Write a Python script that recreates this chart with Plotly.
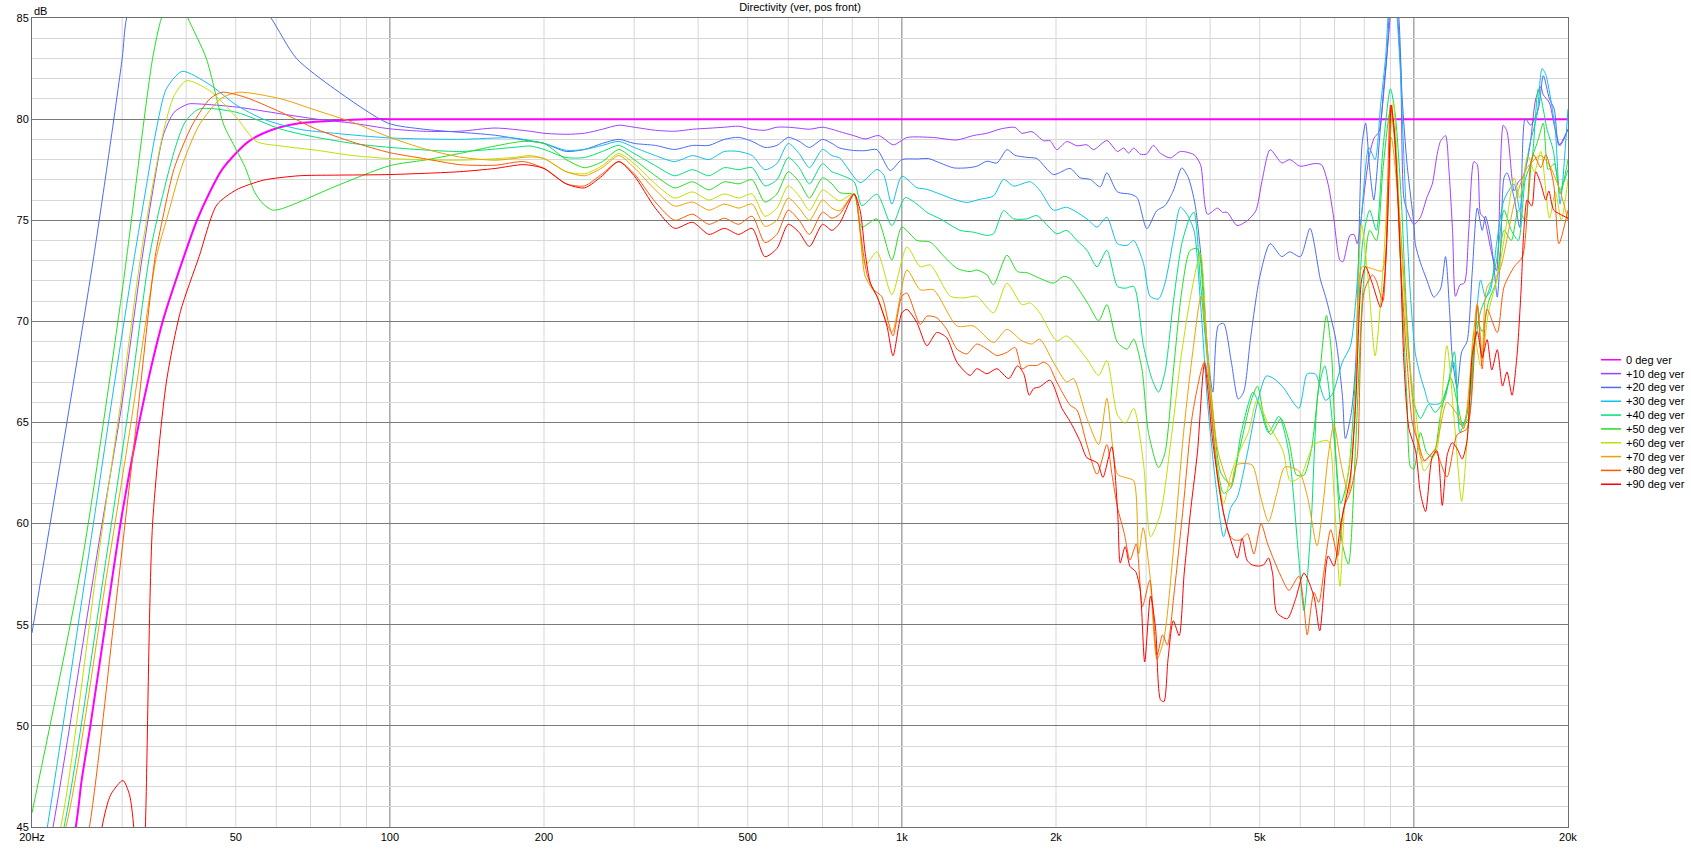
import math
import plotly.graph_objects as go

# ---------------- data ----------------
MID_F = [200, 221, 240, 260, 280, 300, 330, 360, 390, 420,
         450, 480, 510, 540, 570, 600, 630, 660, 700, 730]

# 0 deg
f_00 = [20, 24.35, 25.0, 26, 28, 30, 33, 36, 39.6, 42, 44.5, 47, 50, 53, 56.6, 61, 66.5, 78, 90, 100, 20000]
d_00 = [35, 45, 47.3, 50, 55.5, 60.5, 66, 70, 73.2, 75.0, 76.4, 77.5, 78.3, 78.9, 79.3, 79.6, 79.8, 79.93, 80, 80, 80]

# +10
f_10 = ([20, 21.98, 27, 30, 32.8, 34.4, 36.1, 37.9, 40.4, 42.4,
         50.1, 61.3, 71.9, 84.5, 100, 116.5, 136.8, 160.5, 188] + MID_F +
        [756, 804, 848, 901, 963, 1023, 1153, 1281, 1380, 1466,
         1556, 1664, 1715, 1795, 1891, 1948, 2007, 2099, 2197, 2298,
         2369, 2514, 2637, 2713, 2772, 2837, 2920, 3005, 3100, 3195,
         3345, 3498, 3720, 3831, 3953, 4135, 4230, 4320, 4515, 4727,
         4913, 5048, 5240, 5523, 5720,
         6000, 6380, 6600, 6800, 6970, 7170, 7270, 7500, 7640, 7750,
         7990, 8170, 8360, 8550, 8740, 8940, 9150, 9300, 9420, 9560,
         9710, 10000, 10300, 10600, 10860, 11100, 11270, 11530, 11700, 11900,
         12060, 12300, 12550, 12800, 13100, 13300, 13500, 13700, 13900, 14100,
         14500, 14950, 15200, 15700, 16000, 16300, 16600, 16900, 17300, 17700,
         17900, 18400, 18800, 19300, 20000])
d_10 = ([40, 45, 59, 66, 73.1, 76.4, 79.2, 80.34, 80.75, 80.75,
         80.6, 80.26, 80.0, 79.8, 79.52, 79.4, 79.4, 79.56, 79.4] +
        [79.3, 79.25, 79.3, 79.5, 79.7, 79.6, 79.45, 79.4, 79.5, 79.55,
         79.6, 79.65, 79.5, 79.45, 79.6, 79.6, 79.55, 79.5, 79.6, 79.5] +
        [79.38, 79.19, 79.02, 79.19, 78.73, 79.09, 79.09, 78.97, 79.19, 79.3,
         79.51, 79.59, 79.3, 79.38, 78.93, 78.93, 78.49, 78.89, 78.68, 78.73,
         78.49, 78.94, 78.4, 78.57, 78.32, 78.57, 78.27, 78.27, 78.7, 78.32,
         78.08, 78.4, 78.24, 77.75, 75.3, 75.6, 75.39, 75.39, 74.74, 74.98,
         75.47, 76.9, 78.49, 77.83, 78.0,
         77.67, 77.8, 77.75, 76.78, 75.15, 73.03, 72.95, 74.25, 74.3, 73.84,
         76.29, 78.08, 79.06, 79.38, 81.66, 84.27, 87.5, 85, 82.64, 76.1,
         75.47, 74.8, 75.15, 76.12, 76.78, 78.24, 78.9, 79.19, 77.6, 74.5,
         71.24, 71.8, 71.9, 74.5, 77.9, 77.75, 75.3, 75.15, 74.5, 73.7,
         72.5, 79.7, 79.4, 76.45, 76.9, 77.1, 77.75, 78.9, 81, 81.6,
         81.2, 80.8, 79.7, 78.7, 79.5])

# +20
f_20 = ([20, 26.4, 30, 30.6, 34, 40, 47, 53, 58.6, 65.7,
         77.9, 99.2, 116.6, 161, 189] + MID_F +
        [756, 805, 848, 894, 949, 1000, 1070, 1127, 1188, 1262,
         1339, 1401, 1466, 1533, 1604, 1664, 1754, 1835, 1977, 2131,
         2229, 2333, 2440, 2514, 2637, 2794, 2880, 3009, 3146, 3265,
         3389, 3521, 3627, 3737, 3850, 3972, 4050, 4150, 4250, 4400,
         4540, 4650, 4800, 5000, 5240, 5520, 5720,
         6000, 6270, 6570, 6720, 7040, 7250, 7350, 7550, 7700, 7920,
         8050, 8200, 8350, 8600, 8850, 9100, 9350, 9490, 9700, 10000,
         10070, 10300, 10600, 10940, 11270, 11530, 11750, 11880, 12150, 12400,
         12700, 13000, 13300, 13600, 13800, 14100, 14300, 14550, 14770, 15000,
         15200, 15700, 16100, 16500, 16900, 17500, 17900, 18400, 18800, 19200, 20000])
d_20 = ([54.6, 73.2, 83, 85, 88.5, 90, 88.5, 86.5, 85, 83,
         81.5, 79.8, 79.5, 79.2, 78.9] +
        [78.8, 78.4, 78.5, 78.8, 79.0, 78.8, 78.7, 78.5, 78.7, 78.7,
         79.0, 79.1, 78.9, 78.6, 78.7, 79.1, 78.9, 78.6, 79.0, 78.8] +
        [78.57, 78.45, 78.44, 78.49, 77.46, 78.0, 78.03, 78.05, 77.83, 77.59,
         77.59, 77.67, 77.92, 77.83, 78.49, 78.21, 78.11, 78.05, 77.26, 77.56,
         77.1, 77.02, 76.65, 77.35, 76.4, 76.29, 76.12, 74.58, 75.47, 75.72,
         76.45, 77.59, 77.1, 75.8, 72.87, 67.98, 66.5, 69.8, 69.9, 68,
         66.16, 66.5, 69.2, 72.2, 73.84, 73.2, 73.44,
         73.2, 74.6, 72.05, 71.24, 69.1, 66.35, 64.2, 65.5, 67.98, 78.73,
         79.8, 77.5, 76.0, 79.5, 83, 88, 85, 81.0, 77.75, 74.8,
         73.8, 72.9, 72.05, 71.2, 71.6, 73.2, 70.4, 68.3, 66.7, 68.5,
         69.0, 72.4, 75.6, 74.5, 75.2, 74.2, 73.0, 71.2, 73.5, 77.1,
         77.35, 76.1, 74.65, 80.03, 79.7, 80.5, 82.15, 81.0, 80.5, 78.7, 79.5])

# +30
f_30 = ([20, 21.43, 26, 29, 31.7, 33.3, 34.9, 36.6, 39.3, 44.5,
         50.1, 56.6, 66.5, 78, 100, 136.8, 174] + MID_F +
        [756, 829, 894, 921, 956, 1000, 1070, 1119, 1188, 1262,
         1339, 1422, 1510, 1580, 1653, 1782, 1863, 1977, 2099, 2298,
         2405, 2514, 2637, 2754, 2837, 2964, 3054, 3172, 3265, 3389,
         3498, 3601, 3720, 3831, 3953, 4100, 4250, 4390, 4520, 4730,
         4950, 5150, 5330, 5570, 5960, 6190, 6420, 6720, 6930, 7250,
         7520, 7700, 7920, 8170, 8400, 8610, 8810, 8900, 9100, 9280,
         9420, 9600, 9850, 10070, 10300, 10500, 10700, 10900, 11270, 11700,
         11970, 12150, 12300, 12600, 12800, 13100, 13500, 13800, 14100, 14500,
         15000, 15700, 16100, 16500, 16900, 17400, 17800, 18100, 18500, 18900, 19300, 20000])
d_30 = ([40.5, 45, 59, 67, 73.2, 76.4, 79.36, 81.5, 82.36, 81.7,
         80.7, 80.0, 79.5, 79.3, 79.07, 79.0, 79.07] +
        [78.8, 78.46, 78.5, 78.7, 78.9, 78.6, 78.2, 77.9, 78.2, 78.0,
         78.4, 78.4, 78.2, 77.5, 77.8, 78.8, 78.3, 77.6, 78.5, 78.2] +
        [78.08, 76.86, 77.51, 77.26, 75.8, 77.18, 76.61, 76.53, 76.29, 76.04,
         75.88, 76.04, 76.2, 77.02, 76.69, 76.9, 76.45, 75.5, 75.64, 75.07,
         74.66, 75.15, 73.84, 73.76, 74.0, 72.87, 71.24, 71.11, 71.89, 74.0,
         75.64, 75.31, 74.5, 70.91, 66.03, 62, 59.35, 60.8, 61.3, 63.5,
         66, 67.3, 67.17, 66.7, 65.7, 67.4, 67.4, 66.1, 66.4, 67.98,
         68.8, 71, 75.5, 78.6, 78.0, 80.7, 83.1, 85, 88, 85,
         82.15, 77, 71.24, 68.4, 67.3, 66.6, 65.95, 65.9, 65.95, 67.0,
         67.98, 66.5, 64.9, 65.0, 65.2, 68.5, 72.05, 71.2, 71.5, 73.8,
         76, 76.8, 75.5, 77.5, 78.9, 80.2, 82.5, 82.2, 81.0, 79.4, 75.8, 80.5])

# +40
f_40 = ([20, 23.1, 28, 31, 33.9, 35.5, 37.9, 39.8, 42.4, 50.1,
         61.3, 71.9, 84.5, 100, 136.8, 174, 188] + MID_F +
        [756, 807, 835, 894, 956, 1015, 1070, 1119, 1188, 1300,
         1380, 1466, 1510, 1580, 1653, 1754, 1835, 2007, 2099, 2197,
         2298, 2405, 2514, 2637, 2733, 2837, 2964, 3077, 3172, 3265,
         3389, 3521, 3654, 3720, 3831, 3953, 4100, 4250, 4400, 4600,
         4850, 5000, 5200, 5450, 5700, 5950, 6100, 6300, 6500, 6700,
         7000, 7200, 7450, 7700, 7950, 8200, 8450, 8700, 9000, 9200,
         9450, 9700, 10000, 10300, 10700, 11000, 11500, 12000, 12300, 12700,
         13100, 13500, 14000, 14500, 15000, 15500, 16000, 16500, 17000, 17500,
         17800, 18200, 18700, 19300, 20000])
d_40 = ([39, 45, 58.5, 66, 73.2, 75.6, 78.4, 79.85, 80.5, 80.34,
         79.5, 79.1, 78.8, 78.6, 78.4, 78.6, 78.67] +
        [78.5, 78.1, 78.1, 78.4, 78.7, 78.3, 77.7, 77.2, 77.5, 77.2,
         77.6, 77.5, 77.6, 76.7, 77.0, 78.1, 77.6, 76.8, 77.8, 77.4] +
        [77.26, 76.9, 75.72, 76.29, 74.74, 76.12, 75.8, 75.39, 75.07, 74.5,
         74.41, 74.25, 74.33, 75.47, 75.07, 75.07, 75.23, 74.33, 74.5, 74.0,
         73.52, 72.7, 73.52, 71.73, 71.64, 71.73, 68.8, 67.17, 66.5, 67.49,
         70.91, 73.84, 75.15, 75.4, 71.89, 67.98, 63.5, 61.5, 61.8, 64.5,
         66.5, 65.8, 64.5, 65.3, 63.5, 58.5, 55.7, 60, 66.5, 67.8,
         64, 61, 62.5, 67.5, 74, 75.5, 74.5, 78.5, 81.5, 80.2,
         76, 70, 66, 65.2, 65.9, 65.5, 66.2, 68.5, 64.5, 65.5,
         68.5, 70.5, 71.5, 73, 75.5, 74.5, 74, 77, 78, 81.5,
         80.8, 79.5, 78.5, 76.5, 77.5])

# +50
f_50 = ([20, 25, 30, 34.4, 35.8, 38, 40.3, 43.8, 47.4, 50.1,
         52.2, 54.4, 56.6, 59, 61.3, 66.5, 78, 100, 116.5, 136.8,
         160.5, 182.5] + MID_F +
        [756, 807, 835, 894, 956, 1000, 1070, 1136, 1210, 1281,
         1359, 1401, 1466, 1510, 1604, 1682, 1754, 1859, 1977, 2066,
         2131, 2229, 2315, 2423, 2514, 2637, 2754, 2837, 2943, 3031,
         3172, 3265, 3389, 3521, 3654, 3780, 3900, 4050, 4200, 4390,
         4550, 4800, 4950, 5100, 5250, 5500, 5700, 5900, 6100, 6300,
         6500, 6750, 6900, 7050, 7250, 7450, 7700, 7950, 8200, 8450,
         8700, 9000, 9200, 9450, 9700, 9850, 10000, 10300, 10600, 10900,
         11300, 11800, 12200, 12500, 12900, 13300, 13600, 14000, 14500, 15000,
         15500, 16000, 16500, 17000, 17500, 17900, 18300, 18800, 19300, 20000])
d_50 = ([45.7, 58, 71.5, 83, 85, 86.5, 85, 83, 79.7, 78.5,
         77.6, 76.4, 75.8, 75.5, 75.56, 75.9, 76.66, 77.7, 77.97, 78.3,
         78.67, 78.9] +
        [78.8, 78.0, 77.6, 77.9, 78.5, 78.0, 77.2, 76.6, 76.9, 76.5,
         76.9, 76.8, 77.0, 75.9, 76.3, 77.4, 76.9, 76.1, 77.1, 76.8] +
        [76.37, 76.25, 74.66, 75.07, 73.03, 74.66, 74.0, 73.92, 73.2, 72.62,
         72.46, 72.54, 72.3, 71.81, 73.27, 72.46, 72.41, 72.13, 71.89, 72.22,
         72.13, 71.48, 70.83, 70.02, 70.83, 68.96, 68.63, 69.12, 67.65, 64.5,
         62.77, 63.5, 67.5, 71.5, 73.5, 73.6, 70, 65.5, 62.5, 61.95,
         63.5, 66.0, 66.8, 65.2, 64.4, 65.2, 64.1, 62.4, 62.4, 63.6,
         66.5, 70.3, 68.5, 63, 59, 58, 64, 71.5, 74.5, 74,
         77.5, 80.5, 79, 72, 66, 62.8, 62.7, 64.5, 63.5, 63.3,
         65.5, 67.2, 65.8, 64.7, 66.5, 70, 69.5, 71, 72, 74.5,
         74, 75.5, 75, 78, 79, 79.8, 77.5, 77.8, 76.3, 78])

# +60
f_60 = ([20, 22.76, 27, 30, 32.6, 34.4, 36.1, 37.9, 40.1, 44.5,
         50.1, 54.8, 61.3, 71.9, 84.5, 100, 136.8, 174, 188] + MID_F +
        [756, 807, 848, 894, 956, 1023, 1086, 1136, 1244, 1323,
         1401, 1510, 1604, 1716, 1782, 1859, 2007, 2099, 2298, 2423,
         2514, 2637, 2733, 2837, 2964, 3060, 3200, 3350, 3500, 3650,
         3830, 3950, 4100, 4250, 4400, 4570, 4750, 4940, 5180, 5550,
         5740, 6000, 6200, 6380, 6800, 6980, 7170, 7350, 7640, 7900,
         8150, 8400, 8700, 9120, 9350, 9700, 10100, 10470, 10800, 11100,
         11600, 12000, 12400, 12700, 13100, 13500, 14000, 14600, 15100, 15700,
         16100, 16700, 17200, 17700, 18400, 18900, 19400, 20000])
d_60 = ([40, 45, 58.5, 66.5, 73.2, 76.7, 79.36, 81.16, 81.9, 81.4,
         80.1, 78.9, 78.67, 78.46, 78.2, 78.05, 77.97, 78.1, 78.2] +
        [78.05, 77.4, 77.3, 77.7, 78.3, 77.8, 76.8, 76.1, 76.4, 76.0,
         76.3, 76.1, 76.3, 75.2, 75.6, 76.7, 76.2, 75.5, 76.5, 76.2] +
        [75.96, 76.3, 72.79, 73.44, 71.32, 73.68, 72.7, 72.79, 71.24, 71.16,
         71.24, 70.42, 71.89, 70.83, 70.91, 70.42, 69.04, 69.28, 68.14, 67.33,
         68.06, 65.37, 64.97, 65.7, 63.0, 59.35, 60.5, 64, 68, 71,
         73.36, 68.5, 63.5, 61, 62.5, 63.6, 64.5, 66.1, 65.0, 63.6,
         62.1, 62.3, 63.2, 63.9, 64.1, 61.5, 56.9, 61.5, 64.6, 74.8,
         72, 68.3, 72.5, 80.8, 76, 69, 65.4, 62.6, 63.1, 63.7,
         68.8, 65, 61.1, 64, 69.5, 67.8, 70.5, 72.3, 74.5, 77.1,
         76.1, 78.2, 77.4, 78.4, 75.1, 76.4, 75, 77])

# +70
f_70 = ([20, 23.3, 28, 31, 35, 36.7, 39.1, 42.4, 46.7, 50.6,
         61.3, 71.9, 84.5, 100, 116.5, 136.8, 160.5, 188] + MID_F +
        [756, 807, 848, 894, 956, 1023, 1086, 1153, 1281, 1380,
         1510, 1604, 1716, 1795, 1859, 1977, 2099, 2163, 2298, 2423,
         2514, 2637, 2733, 2837, 2900, 2960, 3050, 3150, 3250, 3400,
         3550, 3700, 3840, 4000, 4150, 4390, 4500, 4830, 5000, 5200,
         5400, 5600, 5960, 6200, 6470, 6650, 6800, 6980, 7200, 7450,
         7700, 7930, 8300, 8670, 9030, 9420, 9800, 10070, 10400, 11000,
         11600, 12150, 12500, 13300, 13600, 13900, 14650, 15700, 16650, 17700,
         18500, 19300, 20000])
d_70 = ([40, 45, 57.5, 64.5, 73.2, 75.1, 77.56, 79.7, 81.0, 81.33,
         81.0, 80.43, 79.85, 79.1, 78.54, 78.13, 77.97, 78.13] +
        [78.05, 77.4, 77.2, 77.6, 78.2, 77.6, 76.5, 75.7, 75.9, 75.5,
         75.8, 75.6, 75.8, 74.7, 75.0, 76.1, 75.6, 75.0, 76.0, 75.6] +
        [75.47, 76.3, 72.22, 71.24, 69.45, 72.54, 71.56, 71.56, 69.77, 69.77,
         68.96, 69.61, 69.04, 68.88, 69.12, 67.98, 67.0, 67.17, 65.21, 63.91,
         66.19, 62.44, 62.28, 62.12, 58.5, 59.8, 57.5, 53.3, 54.3, 59,
         64.5, 68.5, 71.24, 67, 63.5, 61.8, 62.9, 62.9, 61.5, 60.1,
         61.5, 62.8, 62.6, 61.3, 58.9, 61, 63.3, 64.9, 63, 61.5,
         66.5, 72.7, 72.6, 72.5, 79.1, 74.5, 68, 64.7, 63.1, 63.7,
         66.0, 65.4, 64.7, 70.9, 68.3, 71.7, 72.4, 75.8, 77.6, 78.2,
         77.6, 76.45, 75])

# +80
f_80 = ([20, 25.9, 29, 32, 34.8, 35.8, 37.9, 41.1, 44.5, 47,
         52.2, 61.3, 71.9, 84.5, 100, 116.5, 136.8, 160.5, 182.5] + MID_F +
        [756, 807, 829, 854, 881, 913, 942, 961, 1000, 1023,
         1086, 1119, 1170, 1223, 1281, 1339, 1401, 1466, 1533, 1604,
         1664, 1716, 1768, 1835, 1891, 1937, 2007, 2131, 2197, 2298,
         2405, 2514, 2572, 2637, 2720, 2790, 2870, 2950, 3050, 3150,
         3230, 3300, 3400, 3550, 3700, 3900, 4150, 4350, 4450, 4590,
         4730, 4870, 5030, 5180, 5330, 5500, 5700, 5960, 6100, 6190,
         6380, 6520, 6670, 6880, 7100, 7300, 7520, 7750, 8000, 8300,
         8450, 8700, 9000, 9200, 9420, 9700, 9930, 10200, 10500, 11000,
         11600, 12150, 12700, 13300, 13600, 13900, 14550, 15000, 15700, 16300,
         16900, 17150, 17700, 18100, 18750, 19200, 20000])
d_80 = ([30, 45, 55.5, 65, 73.2, 74.8, 77.56, 79.7, 81.0, 81.33,
         81.08, 80.34, 79.5, 78.87, 78.34, 78.05, 77.75, 77.72, 77.9] +
        [77.56, 76.8, 76.7, 77.3, 77.9, 77.3, 75.9, 75.0, 75.3, 74.8,
         75.1, 74.8, 75.2, 73.9, 74.3, 75.5, 75.0, 74.3, 75.4, 75.1] +
        [75.3, 76.3, 74.5, 72.38, 71.56, 71.24, 69.93, 69.28, 71.24, 71.4,
         69.85, 70.26, 70.18, 69.61, 68.63, 68.39, 68.88, 68.63, 68.31, 68.47,
         68.71, 67.65, 67.82, 67.82, 67.98, 67.82, 67.0, 65.86, 65.62, 63.91,
         62.44, 63.91, 62.44, 60.8, 59.5, 58.2, 59.0, 55.9, 57.2, 53.5,
         54.5, 54.0, 56.5, 61, 65.5, 68, 62, 59.5, 59.2, 59.2,
         59.5, 58.5, 60.0, 59.0, 58.2, 57.4, 56.7, 57.4, 55.9, 54.5,
         56.6, 56.1, 57.6, 59.7, 58.4, 60.8, 61.6, 63.3, 71.5, 72.3,
         72.0, 71, 80.7, 78.5, 72.9, 68, 65.0, 64.0, 63.1, 63.6,
         62.3, 64.4, 64.7, 70.75, 67.65, 70.6, 69.45, 71.7, 72.7, 73.2,
         77.75, 78.24, 77.6, 78.24, 76.8, 73.84, 75.5])

# +90
f_90 = ([20, 26, 27.4, 28.5, 30.1, 31, 31.6, 32.4, 33.3, 34.4,
         36.6, 39, 42.4, 45.9, 50.1, 56.6, 66.5, 78, 100, 136.8,
         160.5, 182.5] + MID_F +
        [756, 807, 829, 848, 868, 894, 935, 961, 1000, 1023,
         1070, 1119, 1170, 1223, 1281, 1359, 1401, 1466, 1533, 1617,
         1682, 1730, 1773, 1809, 1859, 1948, 2054, 2131, 2229, 2298,
         2410, 2470, 2570, 2640, 2670, 2730, 2790, 2860, 2920, 2980,
         3060, 3130, 3200, 3250, 3310, 3390, 3480, 3560, 3670, 3780,
         3900, 4050, 4250, 4430, 4520, 4620, 4720, 4830, 4970, 5090,
         5200, 5300, 5400, 5660, 5870, 6100, 6380, 6550, 6800, 6980,
         7200, 7520, 7700, 7900, 8050, 8290, 8610, 8810, 8940, 9030,
         9140, 9280, 9420, 9560, 9780, 10080, 10300, 10540, 10860, 11100,
         11360, 11620, 11880, 12150, 12430, 12700, 13000, 13300, 13600, 13900,
         14200, 14550, 14900, 15200, 15550, 15900, 16200, 16400, 16650, 17000,
         17300, 17700, 18100, 18350, 18750, 19300, 20000])
d_90 = ([30, 40, 45, 46.6, 47.3, 46.6, 45, 38, 45, 60,
         67, 70.5, 73.2, 75.75, 76.5, 76.98, 77.2, 77.23, 77.26, 77.4,
         77.56, 77.75] +
        [77.56, 76.8, 76.6, 77.2, 77.9, 77.2, 75.6, 74.6, 74.9, 74.3,
         74.6, 74.3, 74.6, 73.2, 73.6, 74.8, 74.4, 73.7, 74.8, 74.5] +
        [74.85, 76.3, 75.47, 73.36, 71.89, 71.24, 69.77, 68.3, 70.42, 70.59,
         69.94, 68.8, 69.45, 69.2, 67.98, 67.33, 67.66, 67.41, 67.66, 67.17,
         67.8, 67.41, 66.35, 66.68, 66.76, 67.09, 65.7, 65.05, 64.07, 63.26,
         63.0, 62.28, 63.8, 60.49, 58.05, 58.86, 57.88, 57.64, 56.74, 53.16,
         56.42, 54.8, 51.29, 51.2, 53.3, 55.2, 54.46, 57.56, 60.8, 63.58,
         67.9, 64, 60.5, 58.86, 58.3, 59.27, 58.2, 57.96, 57.9, 57.96,
         58.3, 57.5, 55.6, 55.3, 56.25, 57.56, 56.4, 54.7, 58.4, 57.9,
         60.0, 62.4, 66, 72, 72.7, 71.9, 70.7, 72.9, 77.1, 80.7,
         79.7, 76.8, 72.9, 68.0, 64.7, 63.6, 61.5, 60.6, 63.3, 63.6,
         60.9, 63.4, 64.0, 63.7, 63.2, 64.1, 68.3, 69.5, 68.2, 69.1,
         67.6, 68.6, 66.8, 67.5, 66.35, 68.3, 71.6, 74.5, 76.0, 75.7,
         77.4, 76.8, 76.0, 76.45, 75.5, 75.3, 75.1])

NAMES = ["0 deg ver", "+10 deg ver", "+20 deg ver", "+30 deg ver", "+40 deg ver",
         "+50 deg ver", "+60 deg ver", "+70 deg ver", "+80 deg ver", "+90 deg ver"]
COLORS = ["#FF00FF", "#A040FF", "#4A6CF7", "#10C0E8", "#00E07A",
          "#22E022", "#C0E000", "#F0A000", "#FF5A00", "#FF0000"]
FREQS = [f_00, f_10, f_20, f_30, f_40, f_50, f_60, f_70, f_80, f_90]
LEVELS = [d_00, d_10, d_20, d_30, d_40, d_50, d_60, d_70, d_80, d_90]

X_TICKS = [20, 50, 100, 200, 500, 1000, 2000, 5000, 10000, 20000]
X_TICKTEXT = ["20Hz", "50", "100", "200", "500", "1k", "2k", "5k", "10k", "20k"]
X_MAJOR_GRID = [100, 1000, 10000]
X_MINOR_GRID = [30, 40, 50, 60, 70, 80, 90,
                200, 300, 400, 500, 600, 700, 800, 900,
                2000, 3000, 4000, 5000, 6000, 7000, 8000, 9000]
Y_TICKS = [45, 50, 55, 60, 65, 70, 75, 80, 85]

for f, d, n in zip(FREQS, LEVELS, NAMES):
    assert len(f) == len(d), (n, len(f), len(d))

# ---------------- figure ----------------
W, H = 1691, 855
ML, MR, MT, MB = 32, 123, 18, 18          # plot area: x 32..1568, y 18..837
PW, PH = W - ML - MR, H - MT - MB
FONT = "Liberation Sans"

fig = go.Figure()
shapes = []
for v in X_MINOR_GRID:
    shapes.append(dict(type="line", xref="x", yref="paper", x0=v, x1=v, y0=0, y1=1,
                       line=dict(color="#d7d7d7", width=1), layer="below"))
for v in X_MAJOR_GRID:
    shapes.append(dict(type="line", xref="x", yref="paper", x0=v, x1=v, y0=0, y1=1,
                       line=dict(color="#7a7a7a", width=1), layer="below"))

for f, d, n, c in zip(FREQS, LEVELS, NAMES, COLORS):
    fig.add_trace(go.Scatter(x=f, y=d, mode="lines", name=n,
                             line=dict(color=c, width=2 if n == "0 deg ver" else 1,
                                       shape="spline", smoothing=0.7),
                             showlegend=False, hoverinfo="skip"))

# compact legend like the reference (rows 14 px apart)
annotations = []
for i, (n, c) in enumerate(zip(NAMES, COLORS)):
    py = 364 + 14 * i
    yp = (H - MB - py) / PH
    shapes.append(dict(type="line", xref="paper", yref="paper",
                       x0=(1601 - ML) / PW, x1=(1621 - ML) / PW, y0=yp, y1=yp,
                       line=dict(color=c, width=1.5)))
    annotations.append(dict(xref="paper", yref="paper", x=(1624 - ML) / PW, y=yp,
                            xanchor="left", yanchor="middle", showarrow=False, text=n,
                            font=dict(family=FONT, size=11, color="#000")))

annotations.append(dict(xref="paper", yref="paper", x=0, y=1, xanchor="left", yanchor="bottom",
                        xshift=0, yshift=-1, showarrow=False, text="dB",
                        font=dict(family=FONT, size=11, color="#000")))

fig.update_layout(
    width=W, height=H,
    margin=dict(l=ML, r=MR, t=MT, b=MB, pad=0),
    paper_bgcolor="white", plot_bgcolor="white",
    showlegend=False,
    title=dict(text="Directivity (ver, pos front)", x=0.5, xref="paper", xanchor="center",
               y=1 - 7.5 / H, yref="container", yanchor="middle",
               font=dict(family=FONT, size=11, color="#000")),
    shapes=shapes, annotations=annotations,
    font=dict(family=FONT, size=11, color="#000"),
)
fig.update_xaxes(type="log", range=[math.log10(19.999), math.log10(20001)],
                 tickmode="array", tickvals=X_TICKS, ticktext=X_TICKTEXT,
                 showgrid=False, zeroline=False, ticks="", ticklen=0,
                 showline=True, linecolor="#6e6e6e", linewidth=1, mirror=True,
                 tickfont=dict(family=FONT, size=11, color="#000"))
fig.update_yaxes(range=[45, 85], tickmode="array", tickvals=Y_TICKS,
                 showgrid=True, gridcolor="#7a7a7a", gridwidth=1,
                 minor=dict(dtick=1, showgrid=True, gridcolor="#d7d7d7", gridwidth=1),
                 zeroline=False, ticks="", ticklen=0,
                 showline=True, linecolor="#6e6e6e", linewidth=1, mirror=True,
                 tickfont=dict(family=FONT, size=11, color="#000"))

# remove the default 8 px page margin so the figure starts at the window corner
fig.write_html("out.html",
               config={"displayModeBar": False, "staticPlot": True},
               post_script="document.body.style.margin='0px';document.body.style.overflow='hidden';")
